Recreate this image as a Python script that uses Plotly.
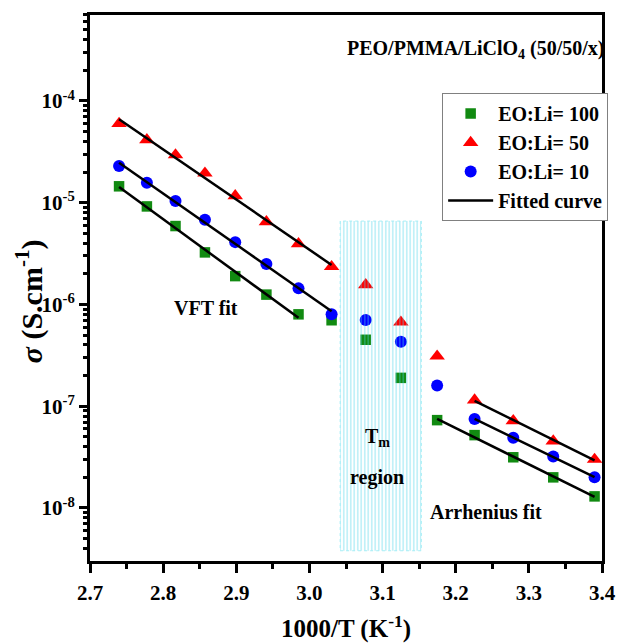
import numpy as np
import plotly.graph_objects as go

# Measurement temperatures (K) and conductivities (S/cm) for each EO:Li ratio
temperature_K = [365, 360, 355, 350, 345, 340, 335, 330, 325, 320, 315, 310, 305, 300, 295]
sigma_eo100 = [1.45e-5, 9.2e-6, 5.9e-6, 3.25e-6, 1.9e-6, 1.25e-6, 8.0e-7, 7.0e-7,
               4.5e-7, 1.9e-7, 7.3e-8, 5.2e-8, 3.15e-8, 2.0e-8, 1.3e-8]
sigma_eo50 = [6.0e-5, 4.15e-5, 2.95e-5, 1.95e-5, 1.17e-5, 6.5e-6, 3.95e-6, 2.35e-6,
              1.56e-6, 6.7e-7, 3.1e-7, 1.15e-7, 7.2e-8, 4.55e-8, 3.0e-8]
sigma_eo10 = [2.3e-5, 1.57e-5, 1.04e-5, 6.8e-6, 4.1e-6, 2.5e-6, 1.44e-6, 8.0e-7,
              7.05e-7, 4.3e-7, 1.6e-7, 7.5e-8, 4.9e-8, 3.2e-8, 2.0e-8]

# Index ranges used for the VFT (high T) and Arrhenius (low T) fits
vft_range = {"100": (0, 7), "50": (0, 8), "10": (0, 8)}
arr_range = {"100": (10, 15), "50": (11, 15), "10": (11, 15)}

# Melting (Tm) region bounds in 1000/T and sigma
tm_x = [3.042, 3.153]
tm_sigma = [3.8e-9, 6.6e-6]

y_tick_vals = [1e-8, 1e-7, 1e-6, 1e-5, 1e-4]
y_tick_text = ["10<sup>-8</sup>", "10<sup>-7</sup>", "10<sup>-6</sup>",
               "10<sup>-5</sup>", "10<sup>-4</sup>"]

inv_T = np.array([1000.0 / t for t in temperature_K])

FONT = "Liberation Serif"

series = [
    ("EO:Li= 100", sigma_eo100, "square", "#118a11", 10.5, "100"),
    ("EO:Li= 50", sigma_eo50, "triangle-up", "#ff0000", 13.5, "50"),
    ("EO:Li= 10", sigma_eo10, "circle", "#0000ff", 12, "10"),
]

fig = go.Figure()

for name, sig, sym, col, size, key in series:
    fig.add_trace(go.Scatter(
        x=inv_T, y=sig, mode="markers", name=name,
        marker=dict(symbol=sym, color=col, size=size, line=dict(width=0)),
    ))

# Straight-line fits of log10(sigma) against 1000/T for each regime
fit_x, fit_y = [], []
for name, sig, sym, col, size, key in series:
    logs = np.log10(np.array(sig))
    for lo, hi in (vft_range[key], arr_range[key]):
        xs = inv_T[lo:hi]
        coef = np.polyfit(xs, logs[lo:hi], 1)
        ends = np.array([xs[0], xs[-1]])
        fit_x += list(ends) + [None]
        fit_y += list(10 ** np.polyval(coef, ends)) + [None]

fig.add_trace(go.Scatter(
    x=fit_x, y=fit_y, mode="lines", name="Fitted curve",
    line=dict(color="black", width=2.5),
))

# Hatched Tm region
fig.add_trace(go.Scatter(
    x=[tm_x[0], tm_x[1], tm_x[1], tm_x[0], tm_x[0]],
    y=[tm_sigma[0], tm_sigma[0], tm_sigma[1], tm_sigma[1], tm_sigma[0]],
    mode="lines", fill="toself", showlegend=False, hoverinfo="skip",
    fillcolor="rgba(0,0,0,0)",
    fillpattern=dict(shape="|", fgcolor="#4fd6ea", bgcolor="rgba(0,0,0,0)",
                     size=3.5, solidity=0.35),
    line=dict(color="#a6eef6", width=1, dash="dot"),
))

# Minor log ticks (2..9 in each decade)
minor_vals = [d * 10.0 ** e for e in range(-9, -3) for d in range(2, 10)]

bold = dict(family=FONT, size=20, color="black", weight="bold")

fig.update_layout(
    width=620, height=644,
    margin=dict(l=90, r=13, t=15, b=83),
    paper_bgcolor="white", plot_bgcolor="white",
    font=dict(family=FONT, color="black", size=20, weight="bold"),
    showlegend=True,
    legend=dict(
        x=1.012, y=0.857, xanchor="right", yanchor="top",
        bgcolor="white", bordercolor="#808080", borderwidth=1,
        font=bold, itemwidth=45, tracegroupgap=0,
    ),
    xaxis=dict(
        range=[2.7, 3.4], tick0=2.7, dtick=0.1, tickformat=".1f",
        showline=True, linewidth=3, linecolor="black", mirror=True,
        ticks="outside", ticklen=9, tickwidth=2.5, tickcolor="black",
        ticklabelstandoff=2, automargin=False,
        showgrid=False, zeroline=False,
        tickfont=dict(family=FONT, size=21, weight="bold", color="black"),
        minor=dict(dtick=0.05, ticks="outside", ticklen=5, tickwidth=2.5,
                   tickcolor="black", showgrid=False),
        title=dict(text="1000/T (K<sup>-1</sup>)", standoff=16,
                   font=dict(family=FONT, size=25, weight="bold", color="black")),
    ),
    yaxis=dict(
        type="log", range=[-8.521, -3.155], automargin=False,
        tickmode="array", tickvals=y_tick_vals, ticktext=y_tick_text,
        showline=True, linewidth=3, linecolor="black", mirror=True,
        ticks="outside", ticklen=8, tickwidth=2.5, tickcolor="black",
        showgrid=False, zeroline=False,
        tickfont=dict(family=FONT, size=21, weight="bold", color="black"),
        minor=dict(tickmode="array", tickvals=minor_vals, ticks="outside",
                   ticklen=4.5, tickwidth=2.5, tickcolor="black", showgrid=False),
    ),
)

# Vertical axis title
fig.add_annotation(xref="paper", yref="paper", x=-0.118, y=0.475,
                   xanchor="center", yanchor="middle", textangle=-90,
                   showarrow=False,
                   text="<i>σ</i> (S.cm<sup>-1</sup>)",
                   font=dict(family=FONT, size=30, weight="bold", color="black"))

fig.add_annotation(xref="paper", yref="paper", x=1.01, y=0.936,
                   xanchor="right", yanchor="middle", showarrow=False,
                   text="PEO/PMMA/LiClO<sub>4</sub> (50/50/x)", font=bold)
fig.add_annotation(x=2.858, y=-6.03, showarrow=False, text="VFT fit", font=bold)
fig.add_annotation(x=3.0925, y=-7.31, showarrow=False, text="T<sub>m</sub>", font=bold)
fig.add_annotation(x=3.0925, y=-7.705, showarrow=False, text="region", font=bold)
fig.add_annotation(x=3.241, y=-8.04, showarrow=False, text="Arrhenius fit", font=bold)

fig.write_html("out.html")
